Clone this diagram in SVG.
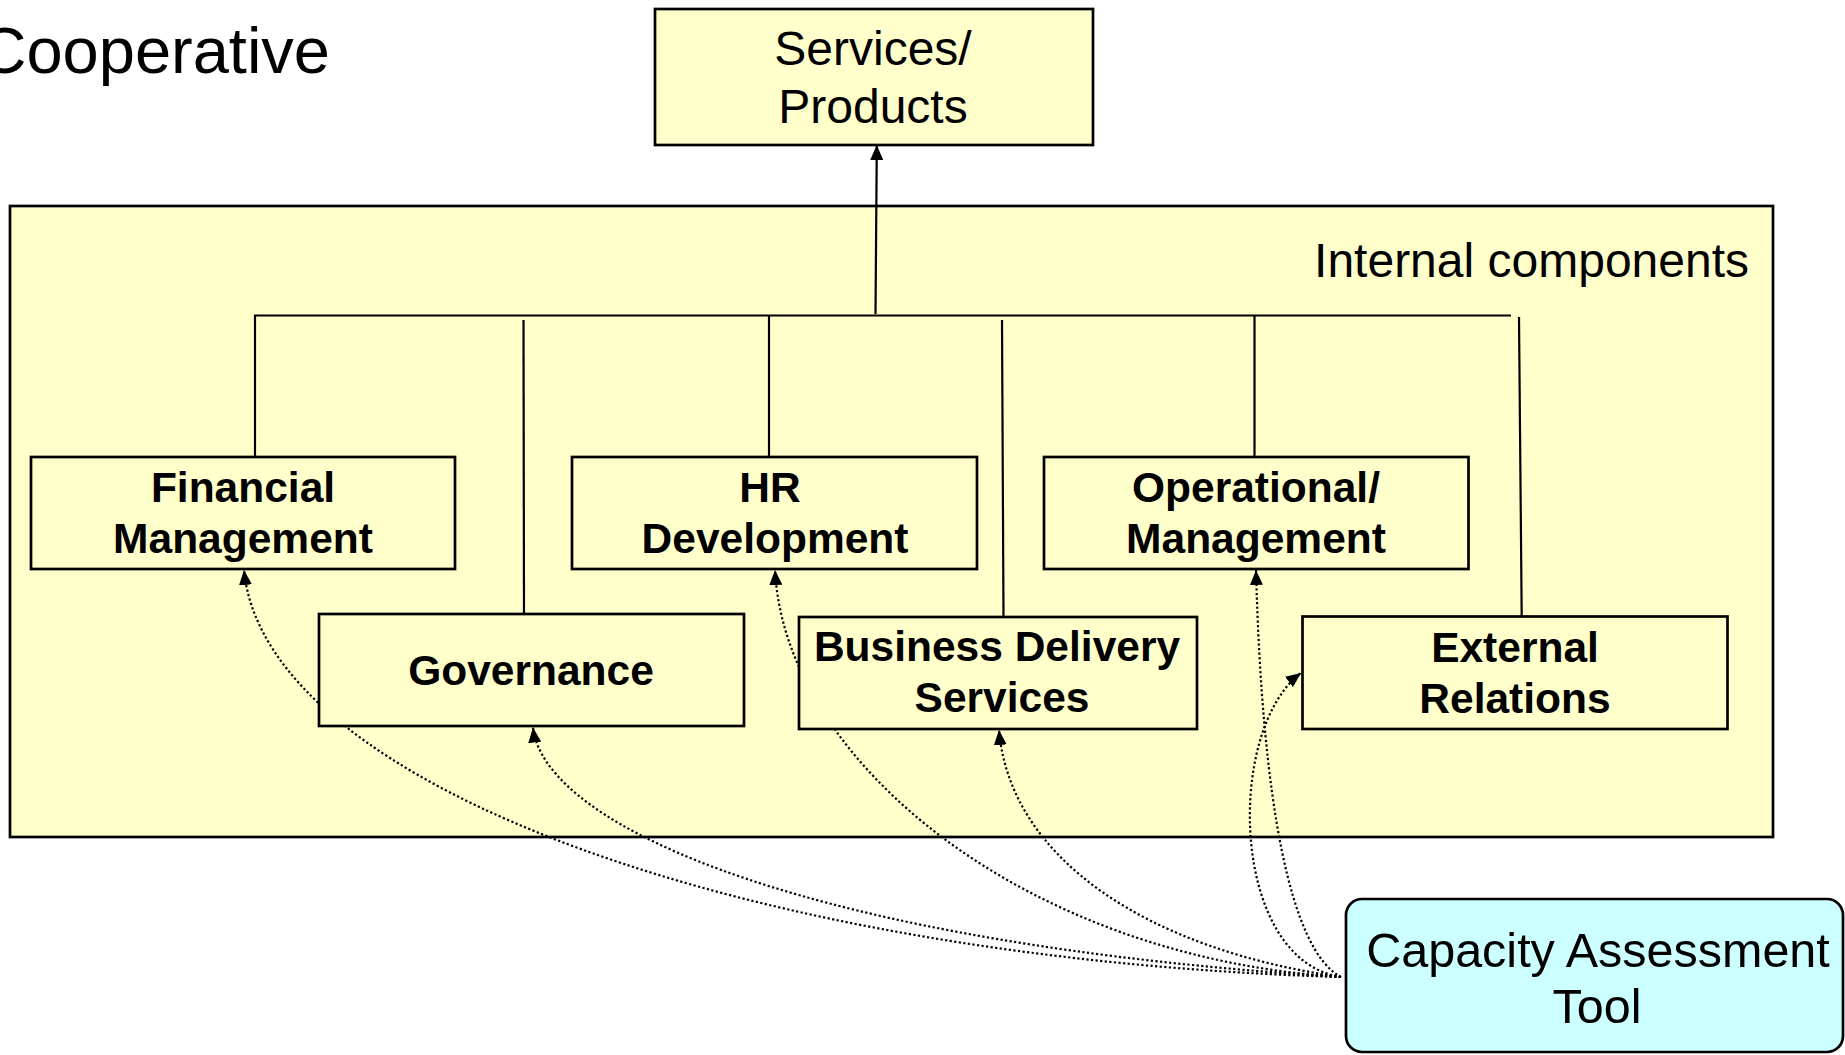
<svg xmlns="http://www.w3.org/2000/svg" width="1845" height="1055" viewBox="0 0 1845 1055">
<style>
.box{fill:#FFFFCC;stroke:#000;stroke-width:2.7}
.cap{fill:#CCFFFF;stroke:#000;stroke-width:2.7}
.t{font-family:"Liberation Sans",Arial,sans-serif;fill:#000;text-anchor:middle}
.reg{font-size:48px}
.bold{font-size:42.5px;font-weight:bold}
.solid{fill:none;stroke:#000;stroke-width:2.2}
.dot{fill:none;stroke:#000;stroke-width:2.2;stroke-dasharray:2.2 2.4}
</style>
<defs>
<marker id="arr" markerUnits="userSpaceOnUse" markerWidth="15" markerHeight="13" viewBox="0 0 15 13" refX="15" refY="6.5" orient="auto">
<path d="M0,0 L15,6.5 L0,13 z" fill="#000"/>
</marker>
</defs>
<rect width="1845" height="1055" fill="#fff"/>
<text class="t" x="330" y="73" style="font-size:65px;text-anchor:end">Cooperative</text>
<g id="container">
<rect class="box" x="10" y="206" width="1763" height="631"/>
<text class="t reg" x="1749" y="277" style="text-anchor:end">Internal components</text>
</g>
<g id="connectors">
<path class="solid" d="M875.5,314 L876.8,145" marker-end="url(#arr)"/>
<path class="solid" d="M254,315.5 L1511,315.5"/>
<path class="solid" d="M255,315.5 L255,457"/>
<path class="solid" d="M523.5,320 L524,614"/>
<path class="solid" d="M769,315.5 L769,457"/>
<path class="solid" d="M1002,320 L1003.5,617"/>
<path class="solid" d="M1254.5,315.5 L1254.5,457"/>
<path class="solid" d="M1519,317 L1521.7,616.5"/>
<path class="dot" d="M1341,977 C760,960 265,790 244,570" marker-end="url(#arr)"/>
<path class="dot" d="M1341,977 C820,945 545,830 533,727.5" marker-end="url(#arr)"/>
<path class="dot" d="M1341,977 C1030,958 785,765 775,570" marker-end="url(#arr)"/>
<path class="dot" d="M1341,977 C1150,950 1010,860 999,730" marker-end="url(#arr)"/>
<path class="dot" d="M1341,977 C1290,950 1262,800 1256,570" marker-end="url(#arr)"/>
<path class="dot" d="M1341,977 C1230,960 1225,730 1301,673" marker-end="url(#arr)"/>
</g>
<g id="services">
<rect class="box" x="655" y="9" width="438" height="136"/>
<text class="t reg" x="873" y="65">Services/</text>
<text class="t reg" x="873" y="123">Products</text>
</g>
<g id="financial">
<rect class="box" x="31" y="457" width="424" height="112"/>
<text class="t bold" x="243" y="502">Financial</text>
<text class="t bold" x="243" y="553">Management</text>
</g>
<g id="hr">
<rect class="box" x="572" y="457" width="405" height="112"/>
<text class="t bold" x="770" y="502">HR</text>
<text class="t bold" x="775" y="553">Development</text>
</g>
<g id="operational">
<rect class="box" x="1044" y="457" width="424.5" height="112"/>
<text class="t bold" x="1256" y="502">Operational/</text>
<text class="t bold" x="1256" y="553">Management</text>
</g>
<g id="governance">
<rect class="box" x="319" y="614" width="425" height="112"/>
<text class="t bold" x="531" y="685">Governance</text>
</g>
<g id="business">
<rect class="box" x="799" y="617" width="398" height="112"/>
<text class="t bold" x="997" y="661">Business Delivery</text>
<text class="t bold" x="1002" y="712">Services</text>
</g>
<g id="external">
<rect class="box" x="1302.5" y="616.5" width="425" height="112.5"/>
<text class="t bold" x="1515" y="662">External</text>
<text class="t bold" x="1515" y="713">Relations</text>
</g>
<g id="capacity">
<rect class="cap" x="1346" y="899" width="497" height="153" rx="16" ry="16"/>
<text class="t" x="1598" y="967" style="font-size:48.5px">Capacity Assessment</text>
<text class="t" x="1597" y="1023" style="font-size:48.5px">Tool</text>
</g>
</svg>
